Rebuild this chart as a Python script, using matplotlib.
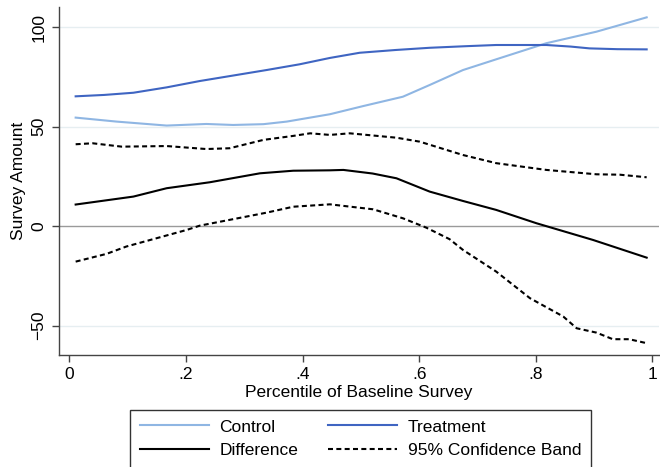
import matplotlib
matplotlib.use("Agg")
import matplotlib.pyplot as plt
from matplotlib.lines import Line2D

plt.rcParams['font.family'] = ['Liberation Sans', 'DejaVu Sans']

x_treat = [0.011, 0.06, 0.11, 0.167, 0.224, 0.28, 0.338, 0.395, 0.447, 0.498, 0.56, 0.618, 0.68, 0.732, 0.818, 0.86, 0.892, 0.94, 0.99]
treatment = [65.3, 66.0, 67.1, 69.8, 73.0, 75.7, 78.5, 81.4, 84.6, 87.2, 88.6, 89.7, 90.5, 91.1, 91.1, 90.3, 89.4, 89.0, 88.9]

x_ctrl = [0.011, 0.081, 0.167, 0.235, 0.281, 0.333, 0.373, 0.447, 0.504, 0.572, 0.618, 0.675, 0.732, 0.818, 0.904, 0.99]
control = [54.6, 52.6, 50.6, 51.4, 50.9, 51.3, 52.6, 56.3, 60.4, 65.1, 71.0, 78.5, 83.9, 92.0, 97.8, 105.0]

x_diff = [0.011, 0.11, 0.167, 0.241, 0.327, 0.384, 0.447, 0.47, 0.52, 0.561, 0.618, 0.675, 0.732, 0.801, 0.898, 0.99]
difference = [10.9, 14.9, 19.1, 22.1, 26.6, 27.9, 28.1, 28.3, 26.5, 24.1, 17.4, 12.7, 8.2, 1.5, -6.9, -15.8]

x_upper = [0.011, 0.04, 0.09, 0.167, 0.235, 0.275, 0.333, 0.384, 0.413, 0.447, 0.481, 0.561, 0.601, 0.675, 0.732, 0.818, 0.904, 0.944, 0.99]
upper = [41.2, 41.7, 40.0, 40.3, 38.8, 39.2, 43.4, 45.4, 46.7, 45.9, 46.7, 44.5, 42.5, 35.8, 31.7, 28.3, 26.1, 25.9, 24.6]

x_lower = [0.011, 0.064, 0.098, 0.201, 0.224, 0.275, 0.338, 0.384, 0.447, 0.521, 0.572, 0.612, 0.652, 0.675, 0.732, 0.79, 0.847, 0.87, 0.904, 0.932, 0.96, 0.99]
lower = [-17.8, -13.9, -10.2, -1.9, 0.3, 3.2, 6.8, 9.8, 11.0, 8.5, 4.0, -0.7, -6.5, -11.9, -22.8, -36.2, -45.4, -51.3, -53.5, -56.8, -56.8, -58.8]

x_ticks = [0, 0.2, 0.4, 0.6, 0.8, 1.0]
x_ticklabels = ['0', '.2', '.4', '.6', '.8', '1']
y_ticks = [-50, 0, 50, 100]
y_ticklabels = ['\u221250', '0', '50', '100']

c_ctrl = '#8fb6e3'
c_treat = '#3f65c2'

fig = plt.figure(figsize=(6.6, 4.67), dpi=100)
ax = fig.add_axes([0.089, 0.240, 0.909, 0.745])

for yv in [-50, 50, 100]:
    ax.axhline(yv, color='#e6eef1', lw=1.0, zorder=0)
ax.axhline(0, color='#9a9a9a', lw=1.0, zorder=1)

lw = 1.5
dash = (2.4, 1.6)
ax.plot(x_ctrl, control, color=c_ctrl, lw=lw, zorder=3)
ax.plot(x_treat, treatment, color=c_treat, lw=lw, zorder=3)
ax.plot(x_diff, difference, color='black', lw=lw, zorder=3)
ax.plot(x_upper, upper, color='black', lw=lw, dashes=dash, zorder=3)
ax.plot(x_lower, lower, color='black', lw=lw, dashes=dash, zorder=3)

ax.set_xlim(-0.018, 1.0106)
ax.set_ylim(-64.7, 110.2)
ax.set_xticks(x_ticks)
ax.set_xticklabels(x_ticklabels)
ax.set_yticks(y_ticks)
ax.set_yticklabels(y_ticklabels, rotation=90, va='center')
ax.tick_params(direction='out', length=5, width=1, color='#444444', labelsize=12.5, pad=4)
for s in ['top', 'right']:
    ax.spines[s].set_visible(False)
for s in ['left', 'bottom']:
    ax.spines[s].set_color('#444444')
    ax.spines[s].set_linewidth(1)

ax.set_xlabel('Percentile of Baseline Survey', fontsize=12.5, labelpad=2)
ax.set_ylabel('Survey Amount', fontsize=12.5, labelpad=4)

h_ctrl = Line2D([], [], color=c_ctrl, lw=lw)
h_treat = Line2D([], [], color=c_treat, lw=lw)
h_diff = Line2D([], [], color='black', lw=lw)
h_ci = Line2D([], [], color='black', lw=lw, dashes=dash)
handles = [h_ctrl, h_diff, h_treat, h_ci]
labels = ['Control', 'Difference', 'Treatment', '95% Confidence Band']
leg = fig.legend(handles, labels, ncol=2, loc='lower center', bbox_to_anchor=(0.546, -0.002),
                 fontsize=12.5, frameon=True, fancybox=False, edgecolor='black',
                 handlelength=4.0, handletextpad=0.6, columnspacing=1.7,
                 labelspacing=0.5, borderpad=0.55, borderaxespad=0)
leg.get_frame().set_linewidth(1.0)

fig.savefig('out.png', dpi=100)
